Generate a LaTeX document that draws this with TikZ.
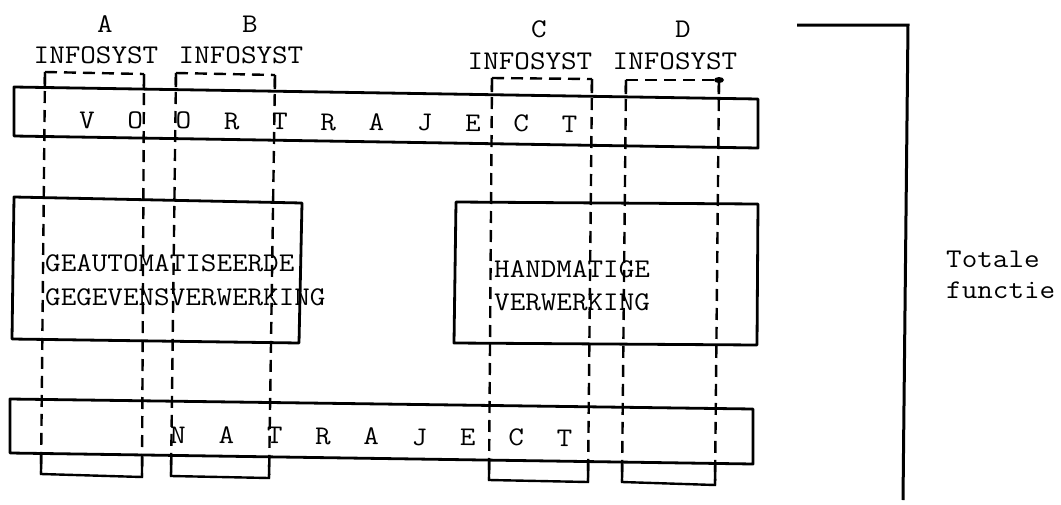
\documentclass[tikz,border=0pt]{standalone}
\usepackage{graphicx}
\usetikzlibrary{calc}
\newcommand{\tw}[1]{\scalebox{1.12}[1]{#1}}
\tikzset{
  box/.style={line width=2.8pt, line join=round},
  col/.style={line width=2.4pt, dash pattern=on 12pt off 7pt},
  colsolid/.style={line width=2.4pt},
  lbl/.style={anchor=base, inner sep=0pt},
  lblw/.style={anchor=base west, inner sep=0pt},
}
\begin{document}
\begin{tikzpicture}[x=1pt,y=-1pt,font=\fontsize{27}{32}\selectfont\ttfamily]
\useasboundingbox (0,0) rectangle (1061,504);
% outlines of the blocks
\coordinate (v1) at (14,87);  \coordinate (v2) at (758,99);
\coordinate (v3) at (758,148);\coordinate (v4) at (14,136);
\coordinate (n1) at (10,399); \coordinate (n2) at (753,409);
\coordinate (n3) at (753,464);\coordinate (n4) at (10,453);
\coordinate (g1) at (14,197); \coordinate (g2) at (302,203);
\coordinate (g3) at (299,343);\coordinate (g4) at (12,339);
\coordinate (h1) at (456,202);\coordinate (h2) at (758,204);
\coordinate (h3) at (757,345);\coordinate (h4) at (454,343);
\coordinate (t1) at (797,25); \coordinate (t2) at (908,25);
\coordinate (t3) at (903,500);
\draw[box] (v1) -- (v2) -- (v3) -- (v4) -- cycle;
\draw[box] (n1) -- (n2) -- (n3) -- (n4) -- cycle;
\draw[box] (g1) -- (g2) -- (g3) -- (g4) -- cycle;
\draw[box] (h1) -- (h2) -- (h3) -- (h4) -- cycle;
\draw[line width=3pt] (t1) -- (t2) -- (t3);
% columns
\foreach \c/\tlx/\tly/\trx/\try/\brx/\bry/\blx/\bly in {
  a/45/72/144/74/142/477/41/474,
  b/176/73/275/75/269/478/171/476,
  c/492/78/592/79/588/482/489/480,
  d/626/80/719/80/715/485/622/482}{
  \coordinate (\c TL) at (\tlx,\tly);
  \coordinate (\c TR) at (\trx,\try);
  \coordinate (\c BR) at (\brx,\bry);
  \coordinate (\c BL) at (\blx,\bly);
  \draw[col] (\c TL) -- (\c BL);
  \draw[col] (\c TR) -- (\c BR);
  \draw[col] (\c TL) -- (\c TR);
  \draw[colsolid] (\c TL) -- ($(\c TL)!0.035!(\c BL)$);
  \draw[colsolid] (\c TR) -- ($(\c TR)!0.035!(\c BR)$);
  \draw[colsolid] ($(\c BL)!0.05!(\c TL)$) -- (\c BL) -- (\c BR) -- ($(\c BR)!0.05!(\c TR)$);
}
\fill (719,80) ellipse (5 and 3);
% labels
\node[lbl] (la) at (105,32) {\tw{A}};
\node[lbl] (lb) at (250,32) {\tw{B}};
\node[lbl] (lc) at (539,37) {\tw{C}};
\node[lbl] (ld) at (683,37) {\tw{D}};
\node[lbl] (ia) at (96,63) {\tw{INFOSYST}};
\node[lbl] (ib) at (241,63) {\tw{INFOSYST}};
\node[lbl] (ic) at (530,69) {\tw{INFOSYST}};
\node[lbl] (id) at (675,69) {\tw{INFOSYST}};
\node[lblw,rotate=-0.5] (vt) at (79,128) {\hbox to 498pt{\tw{V}\hfill\tw{O}\hfill\tw{O}\hfill\tw{R}\hfill\tw{T}\hfill\tw{R}\hfill\tw{A}\hfill\tw{J}\hfill\tw{E}\hfill\tw{C}\hfill\tw{T}}};
\node[lblw,rotate=-0.5] (nt) at (170,443) {\hbox to 402pt{\tw{N}\hfill\tw{A}\hfill\tw{T}\hfill\tw{R}\hfill\tw{A}\hfill\tw{J}\hfill\tw{E}\hfill\tw{C}\hfill\tw{T}}};
\node[lblw] (g1t) at (45,271) {\tw{GEAUTOMATISEERDE}};
\node[lblw] (g2t) at (45,305) {\tw{GEGEVENSVERWERKING}};
\node[lblw] (h1t) at (494,277) {\tw{HANDMATIGE}};
\node[lblw] (h2t) at (494,310) {\tw{VERWERKING}};
\node[lblw] (tf1) at (946,267) {\tw{Totale}};
\node[lblw] (tf2) at (946,298) {\tw{functie}};
\end{tikzpicture}
\end{document}
